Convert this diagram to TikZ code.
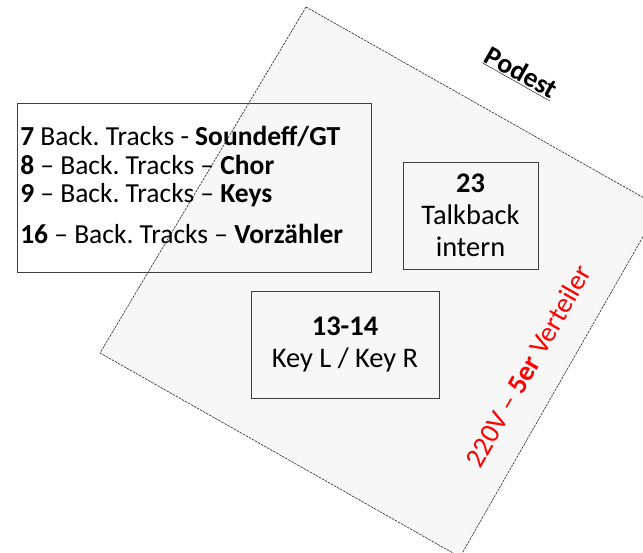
\documentclass[tikz,border=0pt]{standalone}
\usepackage{fontspec}
\setmainfont{Carlito}
\usepackage{xcolor}
\usetikzlibrary{positioning}
\frenchspacing

\begin{document}
\begin{tikzpicture}[x=1pt, y=-1pt]
\tikzset{chanbox/.style={draw=black!75, line width=0.9pt, inner sep=0pt, align=center, font=\fontsize{28.4}{32}\selectfont}}
\tikzset{podestline/.style={draw=black!85, fill=black!3, line width=0.6pt, dash pattern=on 2.5pt off 1pt}}
    \useasboundingbox (0,0) rectangle (643,553);
    \coordinate (Pt) at (306,7);
    \coordinate (Pr) at (660,207);
    \coordinate (Pb) at (460,557);
    \coordinate (Pl) at (100,353);

    \draw[podestline] (Pt) -- (Pr) -- (Pb) -- (Pl) -- cycle;
% % % % % % % % % % % % % % % % % % %
    \node[chanbox, minimum width=354pt, minimum height=169pt] (tracks) at (194,187.5) {};
    \node[align=left, anchor=west, inner sep=0pt, font=\fontsize{27.5}{28.5}\selectfont] (tracklist) at ([xshift=3.5pt, yshift=2.5pt]tracks.west)
        {\textbf{7} Back. Tracks - \textbf{Soundeff/GT}\\
         \textbf{8} – Back. Tracks – \textbf{Chor}\\
         \textbf{9} – Back. Tracks – \textbf{Keys}\\[12pt]
         \textbf{16} – Back. Tracks – \textbf{Vorzähler}};
    \node[chanbox, minimum width=135pt, minimum height=107pt] (talk) at (470.5,215.5) {\textbf{23}\\Talkback\\intern};
    \node[chanbox, minimum width=188pt, minimum height=107pt] (keys) at (345,344.5) {\textbf{13-14}\\Key L / Key R};
% % % % % % % % % % % % % % % % % % %
    \node[font=\fontsize{27.5}{30}\selectfont\bfseries, rotate=-29.5] (podest) at (521,73) {\underline{Podest}};
    \node[text=red, font=\fontsize{28}{32}\selectfont, rotate=60.3] (verteiler) at (528,366) {220V – \textbf{5er} Verteiler};
\end{tikzpicture}
\end{document}
